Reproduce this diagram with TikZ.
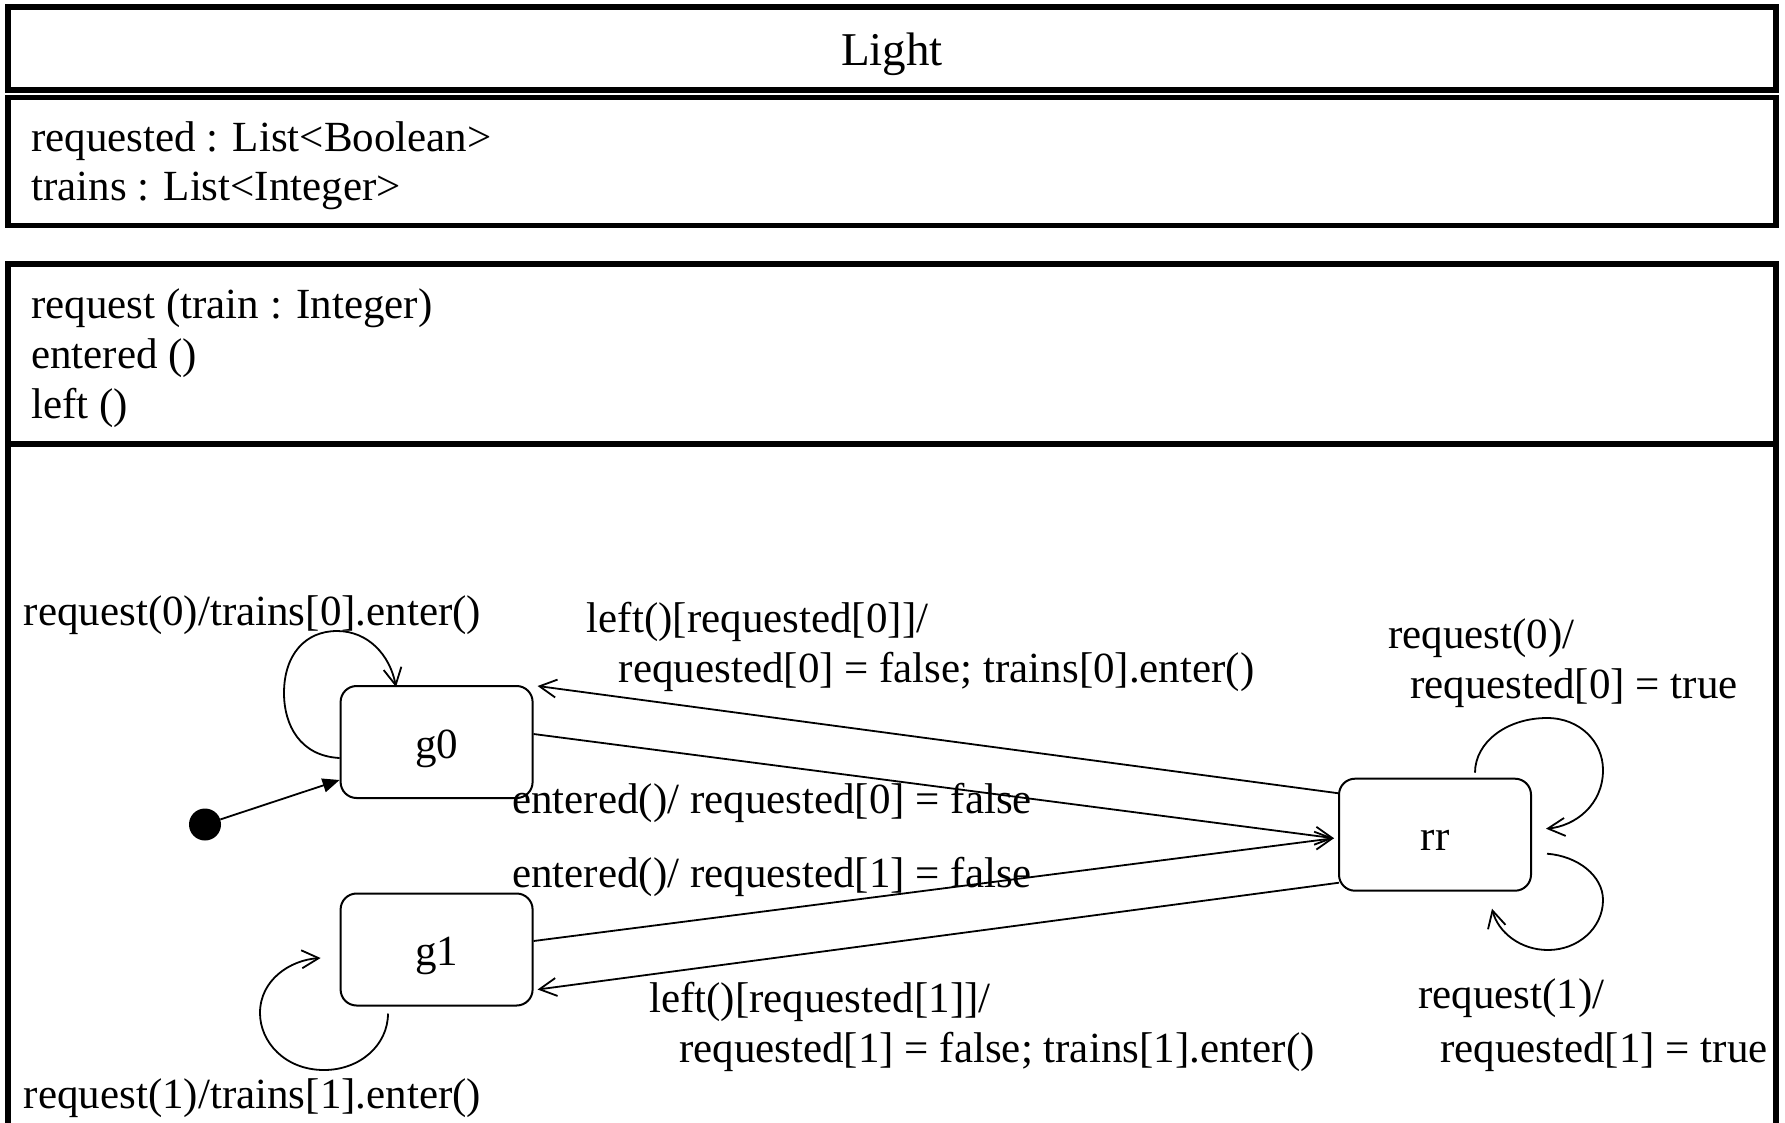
\documentclass[tikz,border=0pt]{standalone}
\usepackage{fontspec}
\setmainfont{Liberation Serif}
\usetikzlibrary{arrows.meta,calc}
\begin{document}
\begin{tikzpicture}[x=1pt,y=-1pt,
  every node/.style={font=\fontsize{43}{50}\selectfont},
  frame/.style={draw=black,line width=5.5pt},
  state/.style={draw,line width=2pt,rounded corners=16pt,minimum width=192pt,minimum height=112pt,inner sep=0pt,text height=32pt,text depth=0pt},
  lbl/.style={anchor=base west,inner sep=0pt,align=left},
  trans/.style={line width=1.8pt,-{Straight Barb[length=17pt,width=18pt]}},
  init/.style={line width=1.8pt,-{Triangle[length=17pt,width=14pt]}}
]
\clip (0,0) rectangle (1785,1122);
\fill[white] (0,0) rectangle (1785,1122);
% class frame
\draw[frame] (8,7) rectangle (1776,90);
\node[anchor=base,inner sep=0pt,font=\fontsize{47}{50}\selectfont] (title) at (892,65) {Light};
\draw[frame] (8,97.5) rectangle (1776,225.5);
\node[lbl] (attr1) at (31,151) {requested : List<Boolean>};
\node[lbl] (attr2) at (31,200) {trains : List<Integer>};
\draw[frame] (8,1140) -- (8,264) -- (1776,264) -- (1776,1140);
\draw[frame] (8,444) -- (1776,444);
\node[lbl] (op1) at (31,318) {request (train : Integer)};
\node[lbl] (op2) at (31,368) {entered ()};
\node[lbl] (op3) at (31,418) {left ()};
% states
\node[state] (g0) at (436.6,742) {g0};
\node[state] (g1) at (436.6,949.5) {g1};
\node[state] (rr) at (1435,834.7) {rr};
\node[circle,fill=black,minimum size=32pt,inner sep=0pt] (init) at (205,824.5) {};
% transitions
\draw[init] (init) -- ($(g0.south west)+(0,-19)$);
\draw[trans] ($(rr.west)+(0,-41.5)$) -- ($(g0.north east)+(4,1)$);
\draw[trans] ($(g0.east)+(0,-8)$) -- ($(rr.west)+(-4,3.5)$);
\draw[trans] ($(g1.east)+(0,-8.5)$) -- ($(rr.west)+(-4,3.5)$);
\draw[trans] ($(rr.west)+(1,48)$) -- ($(g1.south east)+(4,-17)$);
% self loops
\draw[trans] ($(g0.west)+(0,16)$) .. controls (300,756) and (284,725) .. (284,693)
  .. controls (284,655) and (305,631) .. (337,631)
  .. controls (368,631) and (390,655) .. ($(g0.north)+(-40.6,2)$);
\draw[trans] ($(g1.south)+(-48.6,7)$) .. controls (388,1045) and (360,1070) .. (324,1070)
  .. controls (285,1070) and (260,1042) .. (260,1013)
  .. controls (260,980) and (290,960) .. ($(g1.west)+(-19,8.5)$);
\draw[trans] ($(rr.north)+(40,-5)$) .. controls (1475,742) and (1507,718) .. (1547,718)
  .. controls (1580,718) and (1603,742) .. (1603,770)
  .. controls (1603,805) and (1575,826) .. ($(rr.east)+(14,-6)$);
\draw[trans] ($(rr.east)+(15,19)$) .. controls (1578,856) and (1603,876) .. (1603,900)
  .. controls (1603,928) and (1578,950) .. (1548,950)
  .. controls (1520,950) and (1498,932) .. ($(rr.south)+(57,17)$);
% labels (multi-line nodes: base anchor is the last line's baseline)
\node[lbl] (t0) at (23.7,625) {request(0)/trains[0].enter()};
\node[lbl] (t1) at (586.7,682) {left()[requested[0]]/\\\hspace*{32pt}requested[0] = false; trains[0].enter()};
\node[lbl] (t2) at (1388,698) {request(0)/\\\hspace*{22pt}requested[0] = true};
\node[lbl] (t3) at (512,813) {entered()/ requested[0] = false};
\node[lbl] (t4) at (512,887) {entered()/ requested[1] = false};
\node[lbl] (t5) at (649,1062) {left()[requested[1]]/\\\hspace*{30pt}requested[1] = false; trains[1].enter()};
\node[lbl] (t6) at (1418,1062) {request(1)/\\[4pt]\hspace*{22pt}requested[1] = true};
\node[lbl] (t7) at (23.7,1108) {request(1)/trains[1].enter()};
\end{tikzpicture}
\end{document}
